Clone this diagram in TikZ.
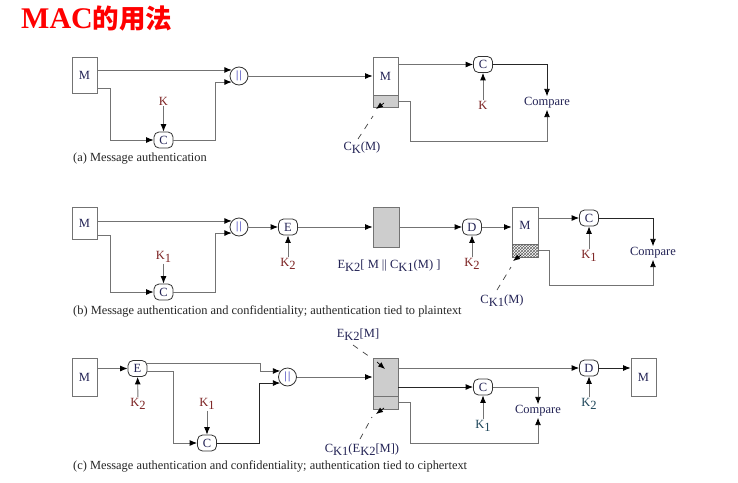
\documentclass[tikz,border=0pt]{standalone}
\usepackage{fontspec}
\setmainfont{Liberation Serif}
\newfontfamily\cjk{Noto Sans CJK SC}
\usetikzlibrary{arrows.meta,patterns}
\definecolor{tc}{RGB}{35,35,85}
\definecolor{kc}{RGB}{125,35,35}
\definecolor{kt}{RGB}{30,70,90}
\definecolor{lc}{RGB}{115,115,115}
\definecolor{gf}{RGB}{205,205,205}
\newcommand{\sbs}[1]{\raisebox{-3pt}{#1}}
\begin{document}
\begin{tikzpicture}[x=1pt,y=-1pt,
  lbl/.style={text=tc,font=\fontsize{12.5}{14}\selectfont,inner sep=1pt},
  klbl/.style={text=kc,font=\fontsize{12.5}{14}\selectfont,inner sep=1pt},
  msgbox/.style={draw=lc,line width=0.8pt,minimum width=25pt,text=tc,font=\fontsize{12.5}{14}\selectfont,inner sep=0pt},
  fn/.style={draw=black!80,line width=0.8pt,rounded corners=5pt,minimum width=19pt,minimum height=16pt,inner sep=0pt,text=tc,font=\fontsize{12.5}{14}\selectfont},
  cat/.style={circle,draw=black!80,line width=0.8pt,minimum size=18pt,inner sep=0pt,text=tc!50!blue,font=\fontsize{11}{13}\selectfont},
  wire/.style={draw=lc,line width=0.9pt},
  darkwire/.style={draw=black!85,line width=0.9pt},
  arr/.style={wire,-{Latex[length=7.5pt,width=6pt,color=black]}},
  darr/.style={darkwire,-{Latex[length=7.5pt,width=6pt,color=black]}},
  lead/.style={draw=black!75,line width=0.7pt,dash pattern=on 6pt off 6pt},
  tip/.style={draw=black,line width=0.7pt,-{Latex[length=7pt,width=5.5pt]}},
  capt/.style={anchor=west,text=black!85,font=\fontsize{12.4}{14}\selectfont,inner sep=0pt},
]
\useasboundingbox[fill=white] (0,0) rectangle (738,482);

% title
\node[anchor=base west,inner sep=0pt,text=red] (title) at (21,28)
  {\fontsize{30}{30}\selectfont\bfseries MAC{\cjk\fontsize{26.5}{26.5}\selectfont 的用法}};

% ---------------- (a) ----------------
\node[msgbox,minimum height=36pt] (Ma) at (84.5,75) {M};
\node[fn] (Ca) at (163.5,140) {C};
\node[klbl] (Ka) at (163.5,101) {K};
\node[cat] (cata) at (239,76) {|\kern1.5pt|};
\node[msgbox,minimum height=38pt] (Ra) at (385.5,76) {M};
\node[msgbox,minimum height=12pt,fill=gf] (Ga) at (385.5,101) {};
\node[fn] (C2a) at (483,64.5) {C};
\node[klbl] (K2a) at (483,105) {K};
\node[lbl] (Compa) at (547,103) {Compare};
\node[lbl] (CKa) at (362,148) {C\sbs{K}(M)};
\coordinate (ba) at (547,141);
\coordinate (la1) at (358,139);
\coordinate (la2) at (373,116);
\coordinate (ta1) at (384,103);
\coordinate (ta2) at (376,109);

\draw[arr] (Ma.east |- cata.140) -- (cata.140);
\draw[arr] ([yshift=-13pt]Ma.east) -- ++(13,0) |- (Ca.west);
\draw[arr] (Ka) -- (Ca);
\draw[arr] (Ca.east) -- ++(42,0) |- (cata.220);
\draw[arr] (cata) -- (Ra);
\draw[arr] (Ra.east |- C2a) -- (C2a);
\draw[arr] (K2a) -- (C2a);
\draw[darr] (C2a.east) -| (Compa.north);
\draw[arr] (Ga.east) -- ++(12,0) |- (ba) -- (Compa.south);
\draw[lead] (la1) -- (la2);
\draw[tip] (ta1) -- (ta2);
\node[capt] (capa) at (73,159) {(a) Message authentication};

% ---------------- (b) ----------------
\node[msgbox,minimum height=32pt] (Mb) at (84.5,223) {M};
\node[fn] (Cb) at (163.5,292) {C};
\node[klbl] (Kb1) at (163.5,257) {K\sbs{1}};
\node[cat] (catb) at (239,227) {|\kern1.5pt|};
\node[fn] (Eb) at (288,227) {E};
\node[klbl] (Kb2) at (288,264) {K\sbs{2}};
\node[msgbox,minimum height=40pt,minimum width=26pt,fill=gf] (Gb) at (386,227) {};
\node[lbl] (Lb) at (389,266) {E\sbs{K2}[ M || C\sbs{K1}(M) ]};
\node[fn] (Db) at (472,227) {D};
\node[klbl] (Kb3) at (472,264) {K\sbs{2}};
\node[msgbox,minimum height=37pt,minimum width=26pt] (Rb) at (525,225.5) {M};
\node[msgbox,minimum height=13pt,minimum width=26pt,fill=white,postaction={pattern=crosshatch,pattern color=black!60}] (Hb) at (525,250.5) {};
\node[fn] (C2b) at (589,218) {C};
\node[klbl] (Kb4) at (589,256) {K\sbs{1}};
\node[lbl] (Compb) at (653,253) {Compare};
\node[lbl] (CKb) at (502,301) {C\sbs{K1}(M)};
\coordinate (bb) at (653,285);
\coordinate (lb1) at (497,290);
\coordinate (lb2) at (511,267);
\coordinate (tb1) at (521,255);
\coordinate (tb2) at (513,261);

\draw[arr] (Mb.east |- catb.140) -- (catb.140);
\draw[arr] ([yshift=-12pt]Mb.east) -- ++(13,0) |- (Cb.west);
\draw[arr] (Kb1) -- (Cb);
\draw[arr] (Cb.east) -- ++(42,0) |- (catb.220);
\draw[arr] (catb) -- (Eb);
\draw[arr] (Kb2) -- (Eb);
\draw[arr] (Eb) -- (Gb);
\draw[arr] (Gb) -- (Db);
\draw[arr] (Kb3) -- (Db);
\draw[arr] (Db) -- (Db -| Rb.west);
\draw[arr] (Rb.east |- C2b) -- (C2b);
\draw[arr] (Kb4) -- (C2b);
\draw[darr] (C2b.east) -| (Compb.north);
\draw[arr] (Hb.east) -- ++(11,0) |- (bb) -- (Compb.south);
\draw[lead] (lb1) -- (lb2);
\draw[tip] (tb1) -- (tb2);
\node[capt] (capb) at (73,311) {(b) Message authentication and confidentiality; authentication tied to plaintext};

% ---------------- (c) ----------------
\node[msgbox,minimum height=38pt] (Mc) at (84.5,377) {M};
\node[fn] (Ec) at (137.5,368.5) {E};
\node[klbl] (Kc2) at (138,404) {K\sbs{2}};
\node[fn] (Cc) at (207,443) {C};
\node[klbl] (Kc1) at (207,404) {K\sbs{1}};
\node[cat] (catc) at (287.5,377) {|\kern1.5pt|};
\node[msgbox,minimum height=38pt,fill=gf] (Gc) at (385.5,377) {};
\node[msgbox,minimum height=13pt,fill=gf] (Gc2) at (385.5,402.5) {};
\node[fn] (Dc) at (589,368) {D};
\node[klbl,text=kt] (Kc3) at (589,404) {K\sbs{2}};
\node[msgbox,minimum height=38pt] (Mc2) at (643.5,377) {M};
\node[fn] (C2c) at (483,387) {C};
\node[klbl,text=kt] (Kc4) at (483,426) {K\sbs{1}};
\node[lbl] (Compc) at (538,411) {Compare};
\node[lbl] (EKc) at (358,335) {E\sbs{K2}[M]};
\node[lbl] (CKc) at (362,450) {C\sbs{K1}(E\sbs{K2}[M])};
\coordinate (bc) at (538,443);
\coordinate (lc1) at (353,345);
\coordinate (lc2) at (370,357);
\coordinate (tc1) at (377,362);
\coordinate (tc2) at (385,369);
\coordinate (lc3) at (360,439);
\coordinate (lc4) at (372,417);
\coordinate (tc3) at (384,408);
\coordinate (tc4) at (376,414);

\draw[arr] (Mc.east |- Ec) -- (Ec);
\draw[arr] (Kc2) -- (Ec);
\draw[arr] ([yshift=5pt]Ec.east) -- ++(113,0) |- (catc.140);
\draw[arr] ([yshift=-3pt]Ec.east) -- ++(26,0) |- (Cc.west);
\draw[arr] (Kc1) -- (Cc);
\draw[darr] (Cc.east) -- ++(43,0) |- (catc.220);
\draw[arr] (catc) -- (Gc);
\draw[arr] (Gc.east |- Dc) -- (Dc);
\draw[arr] (Kc3) -- (Dc);
\draw[darr] (Dc.east) -- (Dc.east -| Mc2.west);
\draw[darr] (Gc.east |- C2c) -- (C2c);
\draw[arr] (Kc4) -- (C2c);
\draw[arr] (C2c.east) -| (Compc.north);
\draw[arr] (Gc2.east) -- ++(12,0) |- (bc) -- (Compc.south);
\draw[lead] (lc1) -- (lc2);
\draw[tip] (tc1) -- (tc2);
\draw[lead] (lc3) -- (lc4);
\draw[tip] (tc3) -- (tc4);
\node[capt] (capc) at (73,466) {(c) Message authentication and confidentiality; authentication tied to ciphertext};
\end{tikzpicture}
\end{document}
